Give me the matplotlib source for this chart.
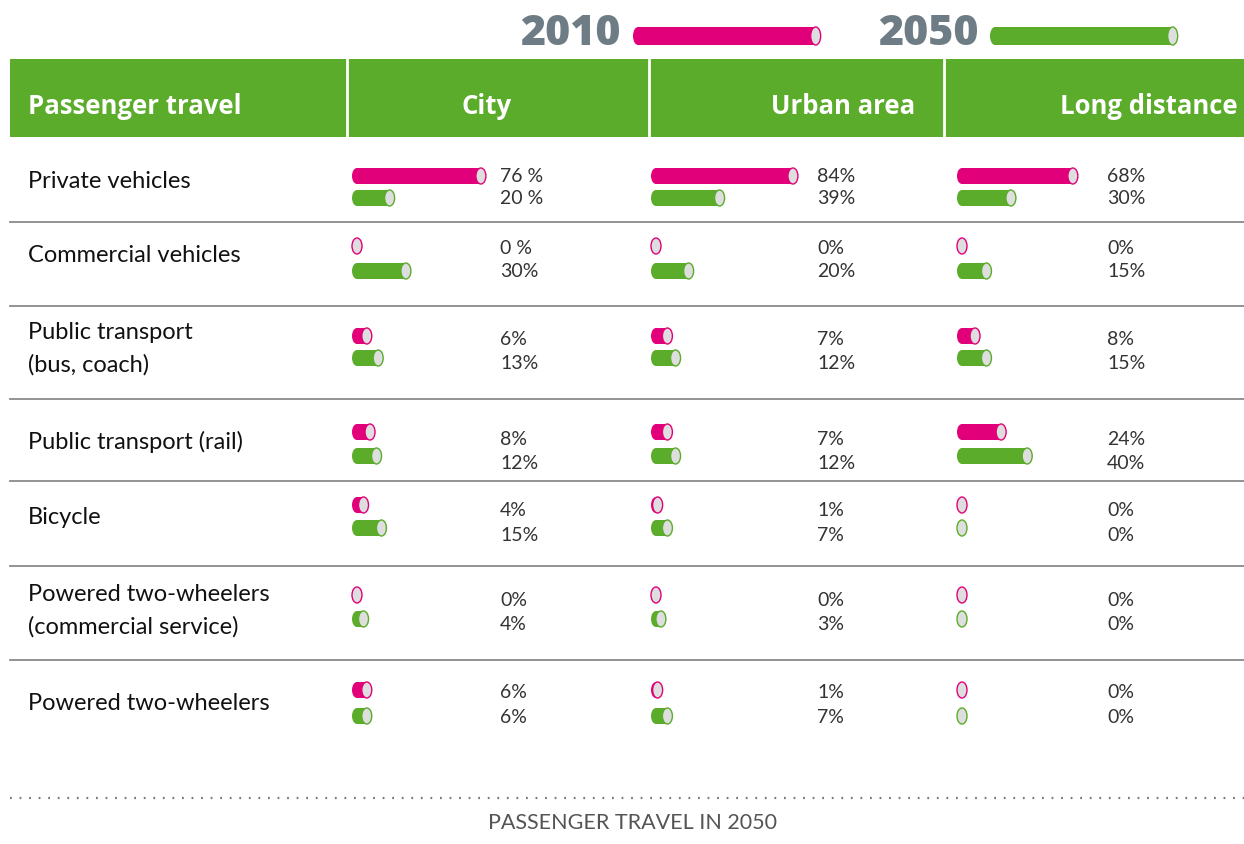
import matplotlib.pyplot as plt
from matplotlib.patches import Ellipse, Rectangle

# modes of passenger travel (rows)
modes = ['Private vehicles', 'Commercial vehicles', 'Public transport\n(bus, coach)',
         'Public transport (rail)', 'Bicycle', 'Powered two-wheelers\n(commercial service)',
         'Powered two-wheelers']
columns = ['City', 'Urban area', 'Long distance']

# share in % for 2010 and 2050 per column
city_2010 = [76, 0, 6, 8, 4, 0, 6]
city_2050 = [20, 30, 13, 12, 15, 4, 6]
urban_2010 = [84, 0, 7, 7, 1, 0, 1]
urban_2050 = [39, 20, 12, 12, 7, 3, 7]
long_2010 = [68, 0, 8, 24, 0, 0, 0]
long_2050 = [30, 15, 15, 40, 0, 0, 0]

# printed labels (the city column has a space before % in the first rows)
city_2010_lbl = ['76 %', '0 %', '6%', '8%', '4%', '0%', '6%']
city_2050_lbl = ['20 %', '30%', '13%', '12%', '15%', '4%', '6%']

PINK = '#e2007a'
GREEN = '#5aac2a'
CAP = '#dedede'
GREY = '#6e7c85'
TXT = '#111111'

fig = plt.figure(figsize=(12.44, 8.45), dpi=100)
ax = fig.add_axes([0, 0, 1, 1])
ax.set_xlim(0, 1244)
ax.set_ylim(845, 0)
ax.axis('off')

PX = 1.63   # pixels per percent
R = 5       # half width of the end caps


def cylinder(x0, y, value, color, h=16):
    # rounded left end, body, light grey right cap
    ln = PX * value
    if ln > 0:
        ax.add_patch(Ellipse((x0 + R, y), 2 * R, h, color=color, lw=0))
        ax.barh(y, ln, left=x0 + R, height=h, color=color, lw=0)
    ax.add_patch(Ellipse((x0 + R + ln, y), 2 * R, h, facecolor=CAP,
                         edgecolor=color, lw=1.0))


# legend on top
ax.text(621, 34, '2010', ha='right', va='center', fontsize=31, fontweight='black',
        color=GREY, family='Open Sans')
cylinder(633, 37, 109, PINK, h=18)
ax.text(979, 34, '2050', ha='right', va='center', fontsize=31, fontweight='black',
        color=GREY, family='Open Sans')
cylinder(990, 37, 109, GREEN, h=18)

# header band
ax.add_patch(Rectangle((10, 60), 1234, 78, color=GREEN, lw=0))
for xd in [347, 649, 944]:
    ax.plot([xd, xd], [60, 138], color='white', lw=2)
hdr = dict(color='white', fontsize=18.5, fontweight='bold', va='center', family='Open Sans')
ax.text(28, 106, 'Passenger travel', ha='left', **hdr)
ax.text(487, 106, columns[0], ha='center', **hdr)
ax.text(915, 106, columns[1], ha='right', **hdr)
ax.text(1238, 106, columns[2], ha='right', **hdr)

# row geometry
label_y = [181, 256, 349, 442, 518, 611, 704]
bar_y = [(177, 199), (247, 272), (337, 359), (433, 457), (506, 529), (596, 620), (691, 717)]
txt_y = [(176, 199), (248, 272), (340, 364), (440, 464), (511, 536), (601, 625), (693, 718)]
sep_y = [223, 307, 400, 482, 567, 661]

col_x = [352, 651, 957]
lbl_x = [500, 817, 1107]
data = [(city_2010, city_2050), (urban_2010, urban_2050), (long_2010, long_2050)]

for i, m in enumerate(modes):
    ax.text(28, label_y[i], m, ha='left', va='center', fontsize=17, color=TXT,
            family='Lato', linespacing=1.6)
    for c in range(3):
        v10, v50 = data[c][0][i], data[c][1][i]
        cylinder(col_x[c], bar_y[i][0], v10, PINK)
        cylinder(col_x[c], bar_y[i][1], v50, GREEN)
        if c == 0:
            s10, s50 = city_2010_lbl[i], city_2050_lbl[i]
        else:
            s10, s50 = '%d%%' % v10, '%d%%' % v50
        ax.text(lbl_x[c], txt_y[i][0], s10, ha='left', va='center', fontsize=14,
                color='#333333', family='Lato')
        ax.text(lbl_x[c], txt_y[i][1], s50, ha='left', va='center', fontsize=14,
                color='#333333', family='Lato')

for ys in sep_y:
    ax.plot([10, 1244], [ys, ys], color='#8a8a8a', lw=1.3)

# footer
ax.plot([10, 1244], [799, 799], color='#777777', lw=1.6, linestyle=(0, (0.8, 3.5)))
ax.text(633, 823, 'PASSENGER TRAVEL IN 2050', ha='center', va='center', fontsize=15.5,
        color='#555555', family='Lato')

fig.savefig('out.png', dpi=100)
